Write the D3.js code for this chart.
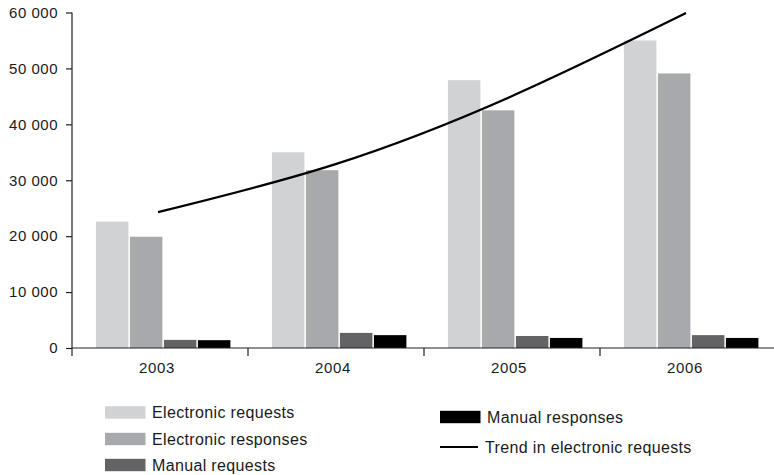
<!DOCTYPE html>
<html>
<head>
<meta charset="utf-8">
<script src="https://cdn.jsdelivr.net/npm/d3@7"></script>
<style>
  html, body { margin: 0; padding: 0; background: #fff; }
  svg { display: block; }
  text { font-family: "Liberation Sans", Arial, Helvetica, sans-serif; fill: #1a1a1a; }
</style>
</head>
<body>
<svg id="chart" width="774" height="475"></svg>
<script>
// ---- data ----
const years = ["2003", "2004", "2005", "2006"];
const seriesNames = ["Electronic requests", "Electronic responses", "Manual requests", "Manual responses"];
const electronicRequests  = [22600, 35000, 47900, 55000];
const electronicResponses = [19900, 31800, 42500, 49100];
const manualRequests      = [1450, 2700, 2150, 2300];
const manualResponses     = [1400, 2300, 1800, 1800];
const trendElectronicRequests = [24300, 32800, 44900, 59900];
const trendName = "Trend in electronic requests";
const yTicks = [0, 10000, 20000, 30000, 40000, 50000, 60000];
const seriesColors = ["#d1d2d4", "#a8a9ac", "#636366", "#000000"];

const seriesValues = [electronicRequests, electronicResponses, manualRequests, manualResponses];

// ---- layout ----
const svg = d3.select("#chart");
const pLeft = 72, pRight = 776, pTop = 12.5, pBottom = 348;

const x0 = d3.scaleBand().domain(years).range([pLeft, pRight]).paddingInner(0).paddingOuter(0);
const bw = x0.bandwidth();
const x1 = d3.scaleBand().domain(seriesNames).range([bw * 0.136, bw * 0.9]).paddingInner(0.045);
const y = d3.scaleLinear().domain([0, 60000]).range([pBottom, pTop]);

const fmt = v => d3.format(",")(v).replace(/,/g, " ");

// bars
const groups = svg.append("g").selectAll("g")
  .data(years)
  .join("g")
  .attr("transform", d => `translate(${x0(d)},0)`);

groups.selectAll("rect")
  .data((d, i) => seriesNames.map((s, j) => ({ s, j, v: seriesValues[j][i] })))
  .join("rect")
  .attr("x", d => x1(d.s))
  .attr("width", x1.bandwidth())
  .attr("y", d => y(d.v))
  .attr("height", d => y(0) - y(d.v))
  .attr("fill", d => seriesColors[d.j]);

// y axis
const yAxis = d3.axisLeft(y).tickValues(yTicks).tickFormat(fmt).tickSize(6).tickSizeOuter(0).tickPadding(8);
const gy = svg.append("g").attr("transform", `translate(${pLeft},0)`).call(yAxis);
gy.select(".domain").attr("stroke", "#222").attr("stroke-width", 1.2).attr("d", `M0,${pTop}V${pBottom}`);
gy.selectAll(".tick line").attr("stroke", "#222").attr("stroke-width", 1.2);
gy.selectAll(".tick text").style("font-size", "15px").style("letter-spacing", "0.5px").attr("fill", "#1a1a1a");

// x axis
const xTickScale = d3.scaleLinear().domain([0, years.length]).range([pLeft, pRight]);
const gx = svg.append("g").attr("transform", `translate(0,${pBottom})`);
gx.append("line").attr("x1", pLeft).attr("x2", pRight).attr("y1", 0).attr("y2", 0)
  .attr("stroke", "#222").attr("stroke-width", 1.2);
gx.selectAll("line.tk").data(d3.range(years.length + 1)).join("line")
  .attr("class", "tk")
  .attr("x1", d => xTickScale(d)).attr("x2", d => xTickScale(d))
  .attr("y1", 0).attr("y2", 8)
  .attr("stroke", "#222").attr("stroke-width", 1.2);
const xAxis = d3.axisBottom(x0).tickSize(0).tickPadding(14);
const gxl = svg.append("g").attr("transform", `translate(-3,${pBottom})`).call(xAxis);
gxl.select(".domain").remove();
gxl.selectAll(".tick text").style("font-size", "15px").style("letter-spacing", "0.7px").attr("fill", "#1a1a1a");

// trend line
const line = d3.line()
  .x((d, i) => x0(years[i]) + bw / 2 - 2)
  .y(d => y(d))
  .curve(d3.curveNatural);
svg.append("path")
  .datum(trendElectronicRequests)
  .attr("d", line)
  .attr("fill", "none")
  .attr("stroke", "#000")
  .attr("stroke-width", 2.2);

// legend
const legend = svg.append("g");
const legItems = [
  { name: seriesNames[0], type: "rect", color: seriesColors[0], x: 105, cy: 412.5 },
  { name: seriesNames[1], type: "rect", color: seriesColors[1], x: 105, cy: 439 },
  { name: seriesNames[2], type: "rect", color: seriesColors[2], x: 105, cy: 465 },
  { name: seriesNames[3], type: "rect", color: seriesColors[3], x: 440, cy: 417 },
  { name: trendName, type: "line", color: "#000", x: 440, cy: 447 }
];
legItems.forEach(it => {
  if (it.type === "rect") {
    legend.append("rect").attr("x", it.x).attr("y", it.cy - 6.2).attr("width", 40.5).attr("height", 12.4).attr("fill", it.color);
  } else {
    legend.append("line").attr("x1", it.x).attr("x2", it.x + 38).attr("y1", it.cy).attr("y2", it.cy)
      .attr("stroke", it.color).attr("stroke-width", 2.2);
  }
  legend.append("text")
    .attr("x", it.x + (it.type === "rect" ? 47 : 45))
    .attr("y", it.cy + 5.6)
    .style("font-size", "16px")
    .style("letter-spacing", "0.35px")
    .text(it.name);
});
</script>
</body>
</html>
